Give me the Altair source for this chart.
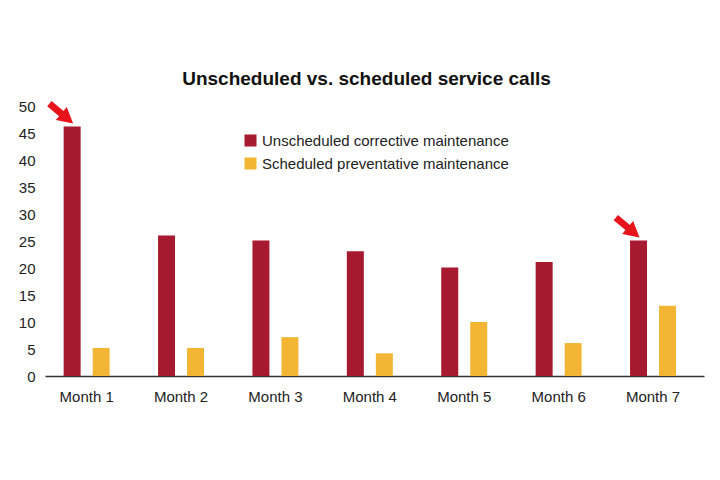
import altair as alt
import pandas as pd

months = ["Month 1", "Month 2", "Month 3", "Month 4", "Month 5", "Month 6", "Month 7"]
series_names = ["Unscheduled corrective maintenance", "Scheduled preventative maintenance"]
unscheduled = [46.2, 26.0, 25.1, 23.1, 20.1, 21.1, 25.1]
scheduled = [5.2, 5.2, 7.2, 4.2, 10.0, 6.1, 13.0]
colors = ["#A6192E", "#F2B634"]
arrow_months = ["Month 1", "Month 7"]
title_text = "Unscheduled vs. scheduled service calls"
y_ticks = [0, 5, 10, 15, 20, 25, 30, 35, 40, 45, 50]

rows = []
for m, u, s in zip(months, unscheduled, scheduled):
    rows.append({"month": m, "series": series_names[0], "value": u})
    rows.append({"month": m, "series": series_names[1], "value": s})
df = pd.DataFrame(rows)

arrow_df = pd.DataFrame({
    "month": arrow_months,
    "series": [series_names[0]] * len(arrow_months),
    "value": [unscheduled[months.index(m)] for m in arrow_months],
})

FONT = "Liberation Sans"

x_enc = alt.X("month:N", sort=months, title=None,
              scale=alt.Scale(paddingInner=0.513, paddingOuter=0.247, align=0.4),
              axis=alt.Axis(labelAngle=0, labelFontSize=15, labelColor="#222",
                            labelFont=FONT, ticks=False, tickSize=0, labelPadding=13,
                            domainColor="#333", domainWidth=1.5, grid=False))
xoff_enc = alt.XOffset("series:N", sort=series_names,
                       scale=alt.Scale(paddingInner=0.414, paddingOuter=0))
y_enc = alt.Y("value:Q", title=None,
              scale=alt.Scale(domain=[0, 50], nice=False),
              axis=alt.Axis(values=y_ticks, tickCount=11, labelFontSize=15,
                            labelColor="#222", labelFont=FONT, domain=False,
                            labelOverlap=False, labelFlush=False,
                            ticks=False, tickSize=0, labelPadding=10, grid=False))

bars = alt.Chart(df).mark_bar().encode(
    x=x_enc,
    xOffset=xoff_enc,
    y=y_enc,
    color=alt.Color("series:N", sort=series_names,
                    scale=alt.Scale(domain=series_names, range=colors),
                    legend=alt.Legend(title=None, orient="none", legendX=198, legendY=27,
                                      symbolType="square", symbolSize=144,
                                      symbolStrokeWidth=0, symbolOpacity=1,
                                      labelFontSize=15, labelFont=FONT, labelColor="#222",
                                      labelLimit=0,
                                      labelOffset=4, rowPadding=7, padding=0)),
)

# arrow pointing right (tip near the origin); rotated 40 deg clockwise
arrow_path = ("M-2.075,-0.41L-1.075,-0.41L-1.075,-0.74L-0.075,-0.19"
              "L-1.075,0.36L-1.075,0.03L-2.075,0.03Z")
arrows = alt.Chart(arrow_df).mark_point(
    shape=arrow_path, size=961, filled=True, color="#E8141B", opacity=1,
    angle=40, strokeWidth=0,
).encode(
    x=x_enc,
    xOffset=xoff_enc,
    y=y_enc,
)

chart = alt.layer(bars, arrows).properties(
    width=659, height=270,
    title=alt.TitleParams(title_text, fontSize=19, font=FONT, fontWeight="bold",
                          color="#111", anchor="middle", dx=-8, offset=10),
    autosize=alt.AutoSizeParams(type="none"),
    padding={"left": 37, "top": 98, "right": 8, "bottom": 96},
).configure_view(stroke=None)

chart.save("out.html", embed_options={"renderer": "svg", "actions": False})
